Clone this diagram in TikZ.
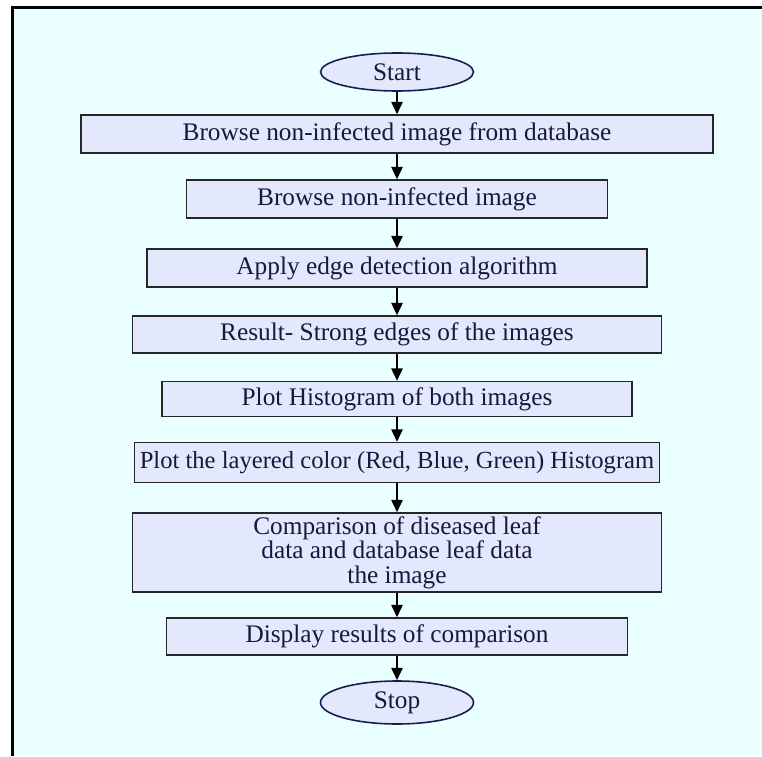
\documentclass[tikz,border=0pt]{standalone}
\usepackage{fontspec}
\setmainfont{Liberation Serif}
\usetikzlibrary{arrows.meta,shapes.geometric}
\definecolor{pagebg}{RGB}{234,255,255}
\definecolor{boxfill}{RGB}{228,232,252}
\definecolor{inkblue}{RGB}{22,24,62}
\definecolor{ovalline}{RGB}{20,30,80}
\begin{document}
\begin{tikzpicture}[every node/.style={font=\fontsize{14.4}{15.2}\selectfont,text=inkblue},
  proc/.style={draw=black!85,line width=0.9pt,fill=boxfill,inner sep=0pt,minimum height=0.76cm,align=center},
  term/.style={ellipse,draw=ovalline,line width=0.9pt,fill=boxfill,inner sep=0pt,minimum width=3.06cm,minimum height=0.76cm},
  flow/.style={-{Triangle[width=6.5pt,length=7pt]},line width=0.7pt,black}]
\useasboundingbox (0,0) rectangle (15.24,15.12);
\fill[white] (0,0) rectangle (15.24,15.12);
\fill[pagebg] (0.25,0) rectangle (15.24,14.97);
\draw[line width=1.2pt] (0.25,0) -- (0.25,14.97) -- (15.24,14.97);
\node[term] (start) at (7.94,13.68) {Start};
\node[proc,minimum width=12.64cm] (dbimg) at (7.94,12.44) {Browse non-infected image from database};
\node[proc,minimum width=8.42cm] (img) at (7.94,11.14) {Browse non-infected image};
\node[proc,minimum width=10.0cm] (edge) at (7.94,9.76) {Apply edge detection algorithm};
\node[proc,minimum width=10.58cm,minimum height=0.74cm] (strong) at (7.94,8.43) {Result- Strong edges of the images};
\node[proc,minimum width=9.4cm,minimum height=0.70cm] (hist) at (7.94,7.14) {Plot Histogram of both images};
\node[proc,minimum width=10.5cm,minimum height=0.80cm,font=\fontsize{14}{15}\selectfont] (rgb) at (7.94,5.87) {Plot the layered color (Red, Blue, Green) Histogram};
\node[proc,minimum width=10.58cm,minimum height=1.58cm] (comp) at (7.94,4.07) {Comparison of diseased leaf\\[-1.3pt]data and database leaf data\\[-1.3pt]the image};
\node[proc,minimum width=9.22cm,minimum height=0.74cm] (disp) at (7.94,2.39) {Display results of comparison};
\node[term,minimum height=0.86cm] (stop) at (7.94,1.07) {Stop};
\draw[flow] (start) -- (dbimg);
\draw[flow] (dbimg) -- (img);
\draw[flow] (img) -- (edge);
\draw[flow] (edge) -- (strong);
\draw[flow] (strong) -- (hist);
\draw[flow] (hist) -- (rgb);
\draw[flow] (rgb) -- (comp);
\draw[flow] (comp) -- (disp);
\draw[flow] (disp) -- (stop);
\end{tikzpicture}
\end{document}
